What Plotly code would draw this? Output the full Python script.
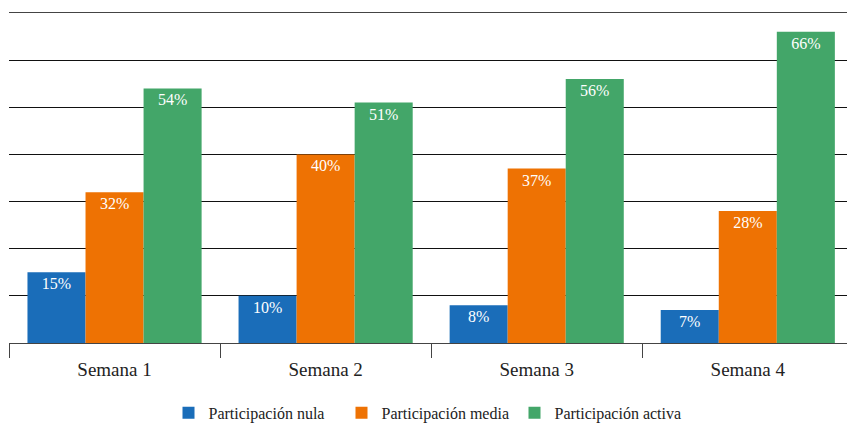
import plotly.graph_objects as go

categories = ["Semana 1", "Semana 2", "Semana 3", "Semana 4"]
series_names = ["Participación nula", "Participación media", "Participación activa"]
nula = [15, 10, 8, 7]
media = [32, 40, 37, 28]
activa = [54, 51, 56, 66]
colors = ["#1a6db9", "#ee7203", "#43a669"]

FONT = "Liberation Serif, DejaVu Serif, serif"

fig = go.Figure()
for name, vals, col in zip(series_names, [nula, media, activa], colors):
    fig.add_trace(go.Bar(
        x=categories, y=vals, name=name,
        marker=dict(color=col, line=dict(width=0)),
        text=[f"{v}%" for v in vals],
        textposition="inside", insidetextanchor="end",
        textfont=dict(color="white", size=16, family=FONT),
        cliponaxis=False,
    ))

fig.update_layout(
    width=847, height=424,
    margin=dict(l=9, r=0, t=13, b=81, autoexpand=False),
    paper_bgcolor="white", plot_bgcolor="white",
    barmode="group", bargap=0.175, bargroupgap=0,
    font=dict(family=FONT, size=16, color="#222"),
    showlegend=True,
    legend=dict(orientation="h", x=0.5, xanchor="center", y=-0.212, yanchor="middle",
                font=dict(size=16, family=FONT, color="#222"), itemwidth=30,
                entrywidth=128, traceorder="normal"),
)
fig.update_xaxes(
    type="category", range=[-0.5, 3.47], tickson="boundaries",
    ticks="outside", ticklen=14, tickcolor="#444", tickwidth=1,
    showline=True, linecolor="#444", linewidth=1, mirror=True,
    showgrid=False, tickfont=dict(size=19, family=FONT, color="#222"),
    ticklabelstandoff=9,
)
fig.update_yaxes(
    range=[0, 70], dtick=10, showticklabels=False, showgrid=True,
    gridcolor="#111", gridwidth=1, zeroline=False, showline=False,
)

fig.write_html("out.html")
